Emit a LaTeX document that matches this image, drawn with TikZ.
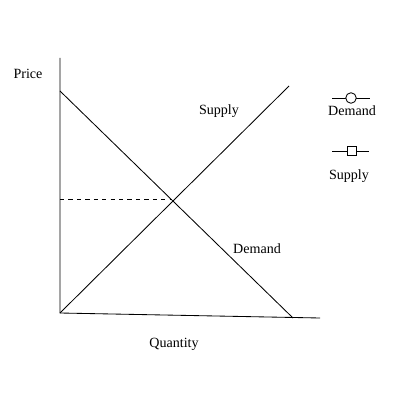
\documentclass[tikz,border=0pt]{standalone}
\usepackage{fontspec}
\setmainfont{Liberation Serif}
\usetikzlibrary{positioning}

\tikzset{
  lbl/.style={font=\fontsize{10}{12}\selectfont, inner sep=1pt},
  curve/.style={black, line width=0.6pt},
}

\begin{document}
\begin{tikzpicture}[x=0.025cm, y=-0.025cm, >=latex]
  \useasboundingbox (0,0) rectangle (400,400);

  % axes
  \coordinate (top) at (60,58);
  \coordinate (o) at (60,313);
  \coordinate (xend) at (320,318);
  \draw[curve] (top) -- (o) -- (xend);

  % curves
  \coordinate (d0) at (60,91);
  \coordinate (d1) at (293,318);
  \coordinate (s1) at (289,86);
  \draw[curve] (d0) -- (d1);
  \draw[curve] (o) -- (s1);
  \coordinate (eq) at (172,199);
  \coordinate (peq) at (60,199);
  \draw[curve, dashed] (peq) -- (eq);

  % labels
  \node[lbl] (price) at (28,74) {Price};
  \node[lbl] (qty) at (174,344) {Quantity};
  \node[lbl] (slbl) at (219,111) {Supply};
  \node[lbl] (dlbl) at (257,249) {Demand};

  % legend
  \coordinate (ld0) at (332,98);
  \coordinate (ld1) at (370,98);
  \draw[curve] (ld0) -- (ld1);
  \node[draw, circle, fill=white, minimum size=7.5pt, inner sep=0pt, line width=0.6pt] (lcirc) at (351,98) {};
  \node[lbl] (ldem) at (352,111) {Demand};

  \coordinate (ls0) at (332,151);
  \coordinate (ls1) at (369,151);
  \draw[curve] (ls0) -- (ls1);
  \node[draw, rectangle, fill=white, minimum size=6.5pt, inner sep=0pt, line width=0.6pt] (lsq) at (352,151) {};
  \node[lbl] (lsup) at (349,176) {Supply};
\end{tikzpicture}
\end{document}
